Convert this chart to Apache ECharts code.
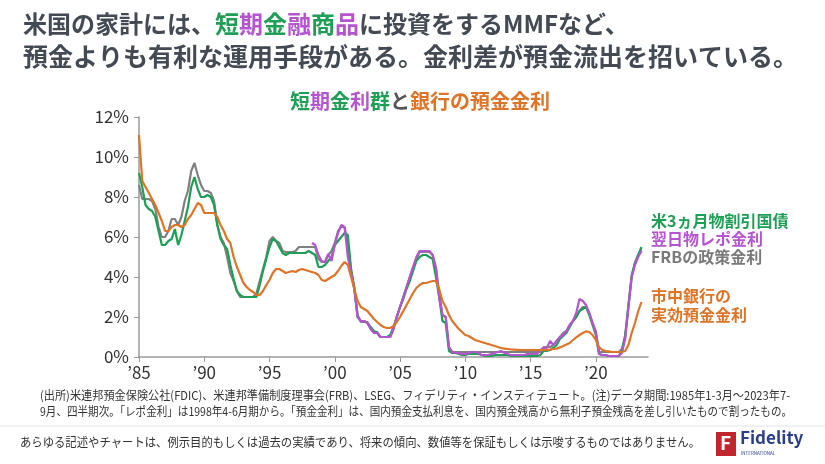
<!DOCTYPE html>
<html><head><meta charset="utf-8">
<script src="https://cdn.jsdelivr.net/npm/echarts@6/dist/echarts.min.js"></script>
<style>html,body{margin:0;padding:0;background:#fff}#c{width:825px;height:464px}</style>
</head><body><div id="c"></div>
<script>
// Quarterly data, 1985Q1 .. 2023Q3 (155 quarters), in %
const startYear = 1985;
const tbill3m = [
 9.2,8.5,7.6,7.4, 7.3,7.0,6.3,5.6, 5.6,5.8,5.9,6.4, 5.6,6.1,6.8,7.5,
 8.5,9.0,8.4,8.0, 8.0,8.1,8.0,7.6, 6.6,5.9,5.6,5.4, 4.6,3.9,3.3,3.1,
 3.0,3.0,3.0,3.0, 3.0,3.6,4.3,4.9, 5.5,5.9,5.8,5.5, 5.2,5.1,5.2,5.2,
 5.2,5.2,5.2,5.2, 5.3,5.2,5.1,4.5, 4.5,4.6,4.8,5.0, 5.6,5.8,6.0,6.2,
 6.1,4.4,3.4,2.0, 1.8,1.8,1.7,1.5, 1.3,1.2,1.0,1.0, 1.0,1.1,1.5,2.0,
 2.5,2.9,3.4,3.8, 4.3,4.8,5.0,5.1, 5.1,5.0,4.9,4.0, 3.0,1.8,1.7,0.3,
 0.2,0.2,0.15,0.1, 0.1,0.15,0.15,0.15, 0.15,0.1,0.05,0.05, 0.05,0.1,0.1,0.1,
 0.1,0.1,0.05,0.05, 0.05,0.05,0.05,0.05, 0.05,0.05,0.05,0.1, 0.3,0.3,0.35,0.45,
 0.6,0.9,1.05,1.2, 1.5,1.8,2.0,2.3, 2.4,2.5,2.1,1.6, 1.1,0.15,0.1,0.1,
 0.05,0.05,0.05,0.05, 0.3,1.1,2.6,4.1, 4.7,5.1,5.5
];
const repoRate = [
 null,null,null,null, null,null,null,null, null,null,null,null, null,null,null,null,
 null,null,null,null, null,null,null,null, null,null,null,null, null,null,null,null,
 null,null,null,null, null,null,null,null, null,null,null,null, null,null,null,null,
 null,null,null,null, null,5.7,5.6,5.1, 4.8,4.75,5.15,4.8, 5.6,6.2,6.6,6.5,
 5.0,4.2,3.4,2.0, 1.8,1.8,1.7,1.4, 1.2,1.2,1.0,1.0, 1.0,1.0,1.4,2.0,
 2.5,3.0,3.5,4.0, 4.5,5.0,5.3,5.3, 5.3,5.3,5.1,4.4, 3.0,2.1,2.0,0.5,
 0.25,0.2,0.2,0.15, 0.15,0.2,0.25,0.25, 0.2,0.1,0.1,0.1, 0.15,0.2,0.25,0.3,
 0.2,0.15,0.1,0.1, 0.1,0.1,0.1,0.15, 0.15,0.15,0.15,0.35, 0.45,0.45,0.8,0.6,
 0.8,1.0,1.1,1.3, 1.6,1.8,2.2,2.9, 2.8,2.6,2.2,1.7, 1.2,0.15,0.1,0.1,
 0.05,0.05,0.05,0.05, 0.2,0.9,2.5,4.0, 4.6,5.0,5.3
];
const fedPolicyRate = [
 8.6,7.9,7.9,7.9, 7.8,7.4,6.5,6.0, 6.0,6.3,6.9,6.9, 6.6,7.0,7.8,8.3,
 9.3,9.7,9.1,8.6, 8.3,8.3,8.2,7.8, 6.6,6.0,5.7,5.0, 4.2,3.8,3.3,3.0,
 3.0,3.0,3.0,3.0, 3.2,3.8,4.4,5.0, 5.8,6.0,5.8,5.7, 5.3,5.25,5.25,5.25,
 5.3,5.5,5.5,5.5, 5.5,5.5,5.5,4.9, 4.75,4.75,5.1,5.3, 5.7,6.3,6.5,6.5,
 5.6,4.3,3.5,2.1, 1.75,1.75,1.75,1.4, 1.25,1.25,1.0,1.0, 1.0,1.0,1.4,2.0,
 2.5,3.0,3.5,4.0, 4.5,4.9,5.25,5.25, 5.25,5.25,5.1,4.5, 3.2,2.1,2.0,0.5,
 0.25,0.25,0.25,0.25, 0.25,0.25,0.25,0.25, 0.25,0.25,0.25,0.25, 0.25,0.25,0.25,0.25,
 0.25,0.25,0.25,0.25, 0.25,0.25,0.25,0.25, 0.25,0.25,0.25,0.25, 0.5,0.5,0.5,0.6,
 0.8,1.0,1.2,1.3, 1.6,1.8,2.0,2.3, 2.5,2.5,2.2,1.7, 1.3,0.25,0.25,0.25,
 0.25,0.25,0.25,0.25, 0.4,1.0,2.5,4.0, 4.7,5.1,5.4
];
const depositRate = [
 11.1,8.8,8.5,8.2, 7.9,7.6,7.2,6.8, 6.3,6.3,6.5,6.6, 6.6,6.5,6.6,6.9,
 7.1,7.4,7.7,7.6, 7.2,7.2,7.2,7.2, 7.0,6.6,6.3,5.9, 5.7,5.0,4.5,4.1,
 3.7,3.5,3.35,3.25, 3.1,3.1,3.3,3.6, 3.85,4.2,4.4,4.4, 4.3,4.2,4.25,4.3,
 4.25,4.35,4.4,4.35, 4.3,4.25,4.2,4.1, 3.85,3.8,3.9,4.0, 4.1,4.3,4.55,4.75,
 4.6,4.0,3.4,2.8, 2.5,2.4,2.3,2.1, 1.9,1.75,1.6,1.5, 1.45,1.45,1.55,1.75,
 2.0,2.3,2.6,2.9, 3.2,3.45,3.6,3.7, 3.7,3.75,3.8,3.8, 3.4,2.8,2.5,2.1,
 1.8,1.6,1.4,1.25, 1.1,1.05,0.95,0.85, 0.8,0.75,0.7,0.65, 0.6,0.55,0.5,0.45,
 0.42,0.4,0.38,0.37, 0.36,0.35,0.35,0.35, 0.35,0.35,0.35,0.35, 0.35,0.36,0.37,0.4,
 0.42,0.48,0.55,0.62, 0.7,0.85,0.98,1.1, 1.2,1.28,1.25,1.1, 0.85,0.5,0.35,0.3,
 0.28,0.25,0.25,0.25, 0.25,0.3,0.6,1.2, 1.7,2.3,2.75
];
const xTickLabels = {1985:"’85",1990:"’90",1995:"’95",2000:"’00",2005:"’05",2010:"’10",2015:"’15",2020:"’20"};
const yTickStep = 2;

const FONT = "'Noto Sans CJK JP','Noto Sans',sans-serif";
const C_GREEN = '#1f9e55', C_PURPLE = '#b455cf', C_GREY = '#808080', C_ORANGE = '#de7428';

const note1 = '(出所)米連邦預金保険公社(FDIC)、米連邦準備制度理事会(FRB)、LSEG、フィデリティ・インスティテュート。(注)データ期間:1985年1-3月～2023年7-';
const note2 = '9月、四半期次。「レポ金利」は1998年4-6月期から。「預金金利」は、国内預金支払利息を、国内預金残高から無利子預金残高を差し引いたもので割ったもの。';
const disclaimer = 'あらゆる記述やチャートは、例示目的もしくは過去の実績であり、将来の傾向、数値等を保証もしくは示唆するものではありません。';

function toPairs(arr){ return arr.map((v,i)=>[startYear + i/4, v]); }
const mctx = document.createElement('canvas').getContext('2d');
function fitScale(text, font, width){ mctx.font = font; return Math.min(1, width / mctx.measureText(text).width); }

const noteFont = '12px ' + FONT;
const discFont = '12.5px ' + FONT;
const tStyle = (c,s)=>({color:c,fontSize:s,fontWeight:'bold',fontFamily:FONT,lineHeight:33});

const chart = echarts.init(document.getElementById('c'), null, {renderer:'canvas'});
const option = {
  animation:false,
  textStyle:{fontFamily:FONT},
  grid:{left:139, right:177, top:117, bottom:107, containLabel:false},
  title:[{
    left:18, top:2,
    text:'{k|米国の家計には、}{g|短}{p|期}{g|金}{p|融}{g|商}{p|品}{k|に投資をするMMFなど、}\n{l|預金よりも有利な運用手段がある。金利差が預金流出を招いている。}',
    textStyle:{fontFamily:FONT, fontSize:24, fontWeight:'bold', color:'#434a54', lineHeight:33,
      rich:{k:tStyle('#434a54',24), g:tStyle(C_GREEN,24), p:tStyle(C_PURPLE,24), l:tStyle('#434a54',25)}}
  },{
    left:415, textAlign:'center', top:86,
    text:'{g|短}{p|期}{g|金}{p|利}{g|群}{k|と}{o|銀行の預金金利}',
    textStyle:{fontSize:20,fontWeight:'bold',
      rich:{g:{color:C_GREEN,fontSize:20,fontWeight:'bold',fontFamily:FONT},
            p:{color:C_PURPLE,fontSize:20,fontWeight:'bold',fontFamily:FONT},
            k:{color:'#555',fontSize:20,fontWeight:'bold',fontFamily:FONT},
            o:{color:C_ORANGE,fontSize:20,fontWeight:'bold',fontFamily:FONT}}}
  }],
  xAxis:{type:'value', min:1985, max:2024, interval:5,
    axisLine:{show:true,lineStyle:{color:'#9a9a9a',width:1.5}},
    axisTick:{show:true,length:5,lineStyle:{color:'#9a9a9a'}},
    splitLine:{show:false},
    axisLabel:{showMaxLabel:false,fontSize:17,color:'#333',margin:7,fontFamily:FONT,
      formatter:v=>xTickLabels[v]||''}
  },
  yAxis:{type:'value', min:0, max:12, interval:yTickStep,
    axisLine:{show:true,lineStyle:{color:'#9a9a9a',width:1.5}},
    axisTick:{show:true,length:5,lineStyle:{color:'#9a9a9a'}},
    splitLine:{show:false},
    axisLabel:{fontSize:17,color:'#333',margin:10,fontFamily:FONT,formatter:v=>v+'%'}
  },
  series:[
    {name:'FRBの政策金利',type:'line',data:toPairs(fedPolicyRate),showSymbol:false,lineStyle:{color:C_GREY,width:2.2},z:2},
    {name:'米3ヵ月物割引国債',type:'line',data:toPairs(tbill3m),showSymbol:false,lineStyle:{color:C_GREEN,width:2.2},z:3},
    {name:'翌日物レポ金利',type:'line',data:toPairs(repoRate),showSymbol:false,connectNulls:false,lineStyle:{color:C_PURPLE,width:2.2},z:4},
    {name:'市中銀行の実効預金金利',type:'line',data:toPairs(depositRate),showSymbol:false,lineStyle:{color:C_ORANGE,width:2.2},z:5}
  ],
  graphic:[
    {type:'text',left:651,top:213,style:{text:'米3ヵ月物割引国債',fill:C_GREEN,font:'bold 16px '+FONT}},
    {type:'text',left:651,top:231,style:{text:'翌日物レポ金利',fill:C_PURPLE,font:'bold 16px '+FONT}},
    {type:'text',left:651,top:249,style:{text:'FRBの政策金利',fill:'#7a7a7a',font:'bold 16px '+FONT}},
    {type:'text',left:651,top:288,style:{text:'市中銀行の',fill:C_ORANGE,font:'bold 16px '+FONT}},
    {type:'text',left:651,top:307,style:{text:'実効預金金利',fill:C_ORANGE,font:'bold 16px '+FONT}},
    {type:'text',x:40,y:389,scaleX:fitScale(note1,noteFont,750),style:{text:note1,fill:'#333',font:noteFont}},
    {type:'text',x:40,y:405,scaleX:fitScale(note2,noteFont,752),style:{text:note2,fill:'#333',font:noteFont}},
    {type:'line',shape:{x1:0,y1:426,x2:825,y2:426},style:{stroke:'#e4e4e4',lineWidth:1}},
    {type:'text',x:20,y:436,scaleX:fitScale(disclaimer,discFont,680),style:{text:disclaimer,fill:'#333',font:discFont}},
    {type:'rect',shape:{x:716,y:432,width:20,height:24},style:{fill:'#c0272d'}},
    {type:'text',left:720,top:433,style:{text:'F',fill:'#fff',font:'bold 19px '+FONT}},
    {type:'text',left:740,top:429,style:{text:'Fidelity',fill:'#2b3e8c',font:'bold 17px '+FONT}},
    {type:'text',left:741,top:451,style:{text:'INTERNATIONAL',fill:'#2b3e8c',font:'4.5px '+FONT}}
  ]
};
chart.setOption(option);
</script></body></html>
